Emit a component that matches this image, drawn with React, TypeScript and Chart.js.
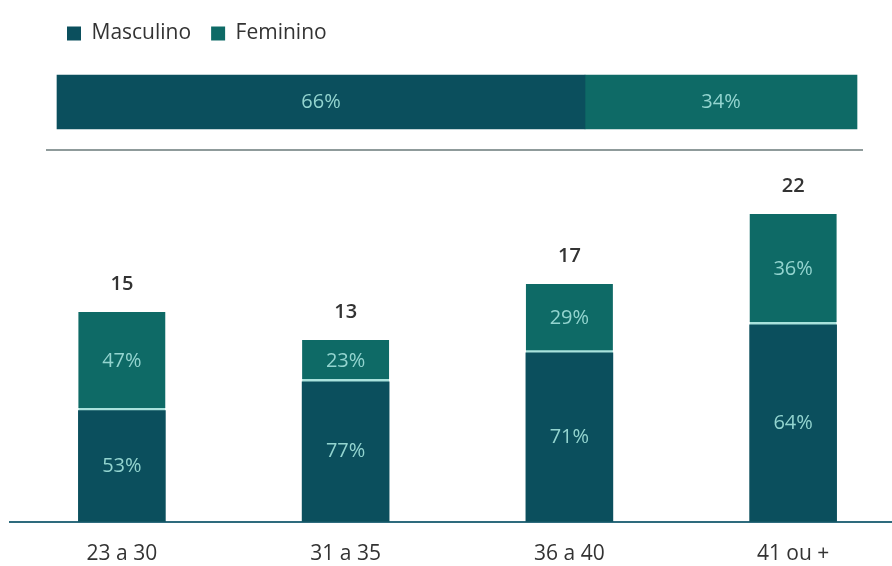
import React, { useEffect, useRef } from "react";
import { Chart, registerables } from "chart.js";

Chart.register(...registerables);

const seriesNames = ["Masculino", "Feminino"];
const overallPct = [66, 34];
const ageGroups = ["23 a 30", "31 a 35", "36 a 40", "41 ou +"];
const totals = [15, 13, 17, 22];
const masculinoPct = [53, 77, 71, 64];
const femininoPct = [47, 23, 29, 36];

const MASC = "#0b4f5d";
const FEM = "#0e6a66";
const LABEL = "#93d4cf";
const SEP = "#a9e2dc";
const TEXT = "#333333";
const FONT = "'Open Sans', sans-serif";

function makeInBarLabels(texts: string[][], horizontal: boolean) {
  return {
    id: "inBarLabels",
    afterDatasetsDraw(chart: any) {
      const ctx = chart.ctx;
      ctx.save();
      ctx.fillStyle = LABEL;
      ctx.font = `20px ${FONT}`;
      ctx.textAlign = "center";
      ctx.textBaseline = "middle";
      chart.data.datasets.forEach((_: any, di: number) => {
        const meta = chart.getDatasetMeta(di);
        meta.data.forEach((el: any, i: number) => {
          const p = el.getProps(["x", "y", "base"], true);
          const cx = horizontal ? (p.x + p.base) / 2 : p.x;
          const cy = horizontal ? p.y : (p.y + p.base) / 2;
          ctx.fillText(texts[di][i], cx, cy);
        });
      });
      ctx.restore();
    },
  };
}

function makeTotals(values: number[]) {
  return {
    id: "totalLabels",
    afterDatasetsDraw(chart: any) {
      const ctx = chart.ctx;
      const last = chart.data.datasets.length - 1;
      const meta = chart.getDatasetMeta(last);
      ctx.save();
      ctx.fillStyle = TEXT;
      ctx.font = `600 20px ${FONT}`;
      ctx.textAlign = "center";
      ctx.textBaseline = "middle";
      meta.data.forEach((el: any, i: number) => {
        const p = el.getProps(["x", "y"], true);
        ctx.fillText(String(values[i]), p.x, p.y - 28);
      });
      ctx.restore();
    },
  };
}

export default function App() {
  const topRef = useRef<HTMLCanvasElement>(null);
  const botRef = useRef<HTMLCanvasElement>(null);

  useEffect(() => {
    const top = new Chart(topRef.current as HTMLCanvasElement, {
      type: "bar",
      data: {
        labels: [""],
        datasets: [
          { label: seriesNames[0], data: [overallPct[0]], backgroundColor: MASC, borderWidth: 0, barThickness: 54 },
          { label: seriesNames[1], data: [overallPct[1]], backgroundColor: FEM, borderWidth: 0, barThickness: 54 },
        ],
      },
      options: {
        indexAxis: "y",
        animation: false,
        responsive: false,
        maintainAspectRatio: false,
        layout: { padding: { left: 47, right: 30, top: 3, bottom: 10 } },
        scales: {
          x: {
            stacked: true,
            min: -1.25,
            max: 100.625,
            grid: { display: false, drawTicks: false },
            ticks: { display: false },
            border: { display: true, color: "#8f9b9b", width: 2 },
          },
          y: { stacked: true, display: false },
        },
        plugins: {
          legend: {
            display: true,
            position: "top",
            align: "start",
            labels: {
              boxWidth: 14,
              boxHeight: 14,
              padding: 20,
              color: TEXT,
              font: { family: FONT, size: 21 },
            },
          },
          tooltip: { enabled: false },
        },
      },
      plugins: [makeInBarLabels(overallPct.map((v) => [`${v}%`]), true)],
    });

    const bottom = new Chart(botRef.current as HTMLCanvasElement, {
      type: "bar",
      data: {
        labels: ageGroups,
        datasets: [
          {
            label: seriesNames[0],
            data: totals.map((t, i) => (t * masculinoPct[i]) / 100),
            backgroundColor: MASC,
            borderWidth: 0,
            barThickness: 87,
          },
          {
            label: seriesNames[1],
            data: totals.map((t, i) => (t * femininoPct[i]) / 100),
            backgroundColor: FEM,
            borderColor: SEP,
            borderWidth: { top: 0, left: 0, right: 0, bottom: 3 },
            borderSkipped: false,
            barThickness: 87,
          },
        ],
      },
      options: {
        animation: false,
        responsive: false,
        maintainAspectRatio: false,
        layout: { padding: { left: 10, right: 0, top: 12, bottom: 2 } },
        scales: {
          x: {
            stacked: true,
            grid: { display: false, drawTicks: false },
            border: { display: true, color: "#2e6b7d", width: 2 },
            ticks: { color: TEXT, padding: 20, font: { family: FONT, size: 21 } },
          },
          y: { stacked: true, display: false, min: 0, max: 25 },
        },
        plugins: {
          legend: { display: false },
          tooltip: { enabled: false },
        },
      },
      plugins: [
        makeInBarLabels(
          [masculinoPct.map((v) => `${v}%`), femininoPct.map((v) => `${v}%`)],
          false
        ),
        makeTotals(totals),
      ],
    });

    return () => {
      top.destroy();
      bottom.destroy();
    };
  }, []);

  return (
    <div
      style={{
        position: "absolute",
        left: 0,
        top: 0,
        width: 892,
        height: 566,
        overflow: "hidden",
        background: "#ffffff",
      }}
    >
      <canvas
        ref={topRef}
        width={892}
        height={160}
        style={{ position: "absolute", left: 0, top: 0, width: 892, height: 160 }}
      />
      <canvas
        ref={botRef}
        width={905}
        height={429}
        style={{ position: "absolute", left: 0, top: 160, width: 905, height: 429 }}
      />
    </div>
  );
}
